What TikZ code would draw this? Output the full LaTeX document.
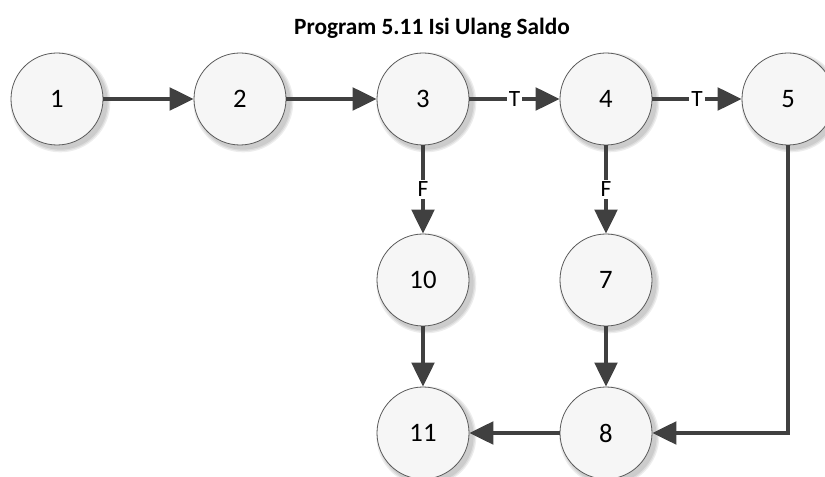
\documentclass[tikz,border=0pt]{standalone}
\usepackage{fontspec}
\setmainfont{Carlito}
\usetikzlibrary{arrows.meta,shadows}
\definecolor{edgegray}{HTML}{404040}
\definecolor{rimgray}{HTML}{5A5A5A}
\definecolor{discfill}{HTML}{F6F6F6}
\tikzset{
  softshade/.style={circle, fill=black, opacity=0.07, minimum size=#1, inner sep=0pt, draw=none},
  stepnode/.style={circle, draw=rimgray, line width=0.6pt, fill=discfill,
    minimum size=69pt, inner sep=0pt, font=\fontsize{20}{20}\selectfont},
  flow/.style={draw=edgegray, line width=2.5pt,
    -{Triangle[length=18pt, width=17pt, fill=edgegray]}},
  cond/.style={fill=white, inner sep=1.5pt, text=black, font=\fontsize{17.5}{17.5}\selectfont}
}
% a disc with a soft offset halo behind it
\newcommand{\stepdisc}[3]{%
  \foreach \s in {71,73,75} {\node[softshade=\s pt] at ([xshift=2.5pt,yshift=-2.5pt]#2) {};}
  \node[stepnode] (#1) at (#2) {#3};}
\begin{document}
\begin{tikzpicture}[x=0.75pt, y=-0.75pt]
  \useasboundingbox (0,0) rectangle (825,477);
  \node[font=\bfseries\fontsize{17.5}{17.5}\selectfont] (title) at (432,28) {Program 5.11 Isi Ulang Saldo};

  \stepdisc{n1}{57,99}{1}
  \stepdisc{n2}{240,99}{2}
  \stepdisc{n3}{423,99}{3}
  \stepdisc{n4}{606,99}{4}
  \stepdisc{n5}{788,99}{5}
  \stepdisc{n10}{423,280}{10}
  \stepdisc{n7}{606,280}{7}
  \stepdisc{n11}{423,433}{11}
  \stepdisc{n8}{606,433}{8}

  \coordinate (corner) at (788,433);

  \draw[flow] (n1) -- (n2);
  \draw[flow] (n2) -- (n3);
  \draw[flow] (n3) -- node[cond] {T} (n4);
  \draw[flow] (n4) -- node[cond] {T} (n5);
  \draw[flow] (n3) -- node[cond] {F} (n10);
  \draw[flow] (n4) -- node[cond] {F} (n7);
  \draw[flow] (n10) -- (n11);
  \draw[flow] (n7) -- (n8);
  \draw[flow] (n8) -- (n11);
  \draw[flow] (n5) -- (corner) -- (n8);
\end{tikzpicture}
\end{document}
